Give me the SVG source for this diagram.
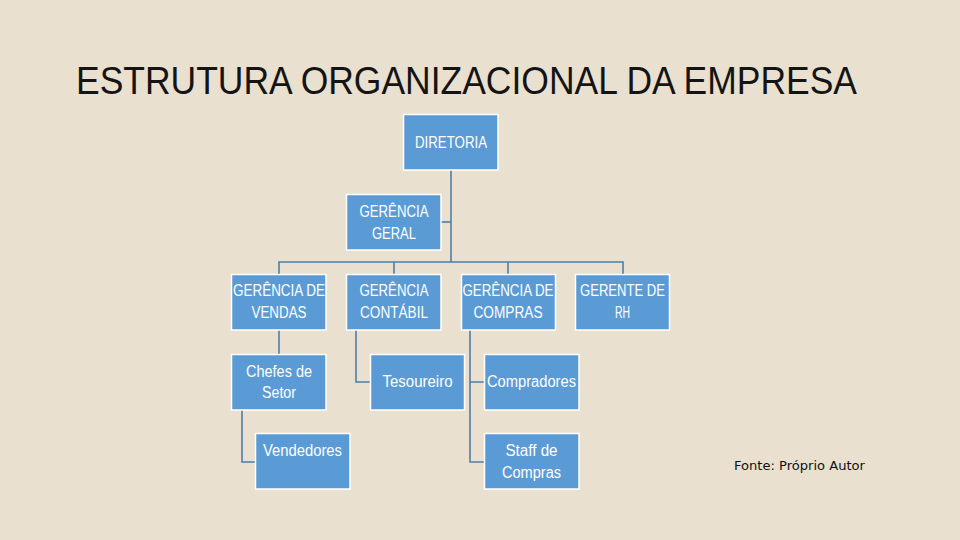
<svg xmlns="http://www.w3.org/2000/svg" width="960" height="540" viewBox="0 0 960 540">
<style>
.bg{fill:#e9e0cf}
.box{fill:#5b9bd5;stroke:#ffffff;stroke-width:1.5}
.lbl{font-family:"Liberation Sans",Arial,sans-serif;font-size:16px;fill:#ffffff;text-anchor:middle;dominant-baseline:central}
.con{fill:none;stroke:#4f7ea8;stroke-width:1.6}
.title{font-family:"Liberation Sans",Arial,sans-serif;font-size:38px;fill:#141414}
.note{font-family:"DejaVu Sans","Liberation Sans",sans-serif;font-size:12px;fill:#111111}
</style>
<rect class="bg" x="0" y="0" width="960" height="540"/>
<text class="title" x="76" y="94" textLength="781" lengthAdjust="spacingAndGlyphs">ESTRUTURA ORGANIZACIONAL DA EMPRESA</text>
<g id="connectors">
<path class="con" d="M451 170V262"/>
<path class="con" d="M441 222H451"/>
<path class="con" d="M279 274V262H623V274M394 262V274M508 262V274"/>
<path class="con" d="M279 330V354"/>
<path class="con" d="M356 330V382H371"/>
<path class="con" d="M470 330V462H484M470 382H484"/>
<path class="con" d="M242 410V462H256"/>
</g>
<g id="diretoria"><rect class="box" x="403.5" y="114.5" width="94.5" height="55.5"/><text class="lbl" x="451" y="142" textLength="72" lengthAdjust="spacingAndGlyphs">DIRETORIA</text></g>
<g id="gerencia-geral"><rect class="box" x="346.5" y="194.5" width="94.5" height="55.5"/><text class="lbl" x="394" y="211.5" textLength="69" lengthAdjust="spacingAndGlyphs">GERÊNCIA</text><text class="lbl" x="394" y="233" textLength="44" lengthAdjust="spacingAndGlyphs">GERAL</text></g>
<g id="gerencia-vendas"><rect class="box" x="231.5" y="274.5" width="94.5" height="55.5"/><text class="lbl" x="279" y="290" textLength="92" lengthAdjust="spacingAndGlyphs">GERÊNCIA DE</text><text class="lbl" x="279" y="312" textLength="55" lengthAdjust="spacingAndGlyphs">VENDAS</text></g>
<g id="gerencia-contabil"><rect class="box" x="346.5" y="274.5" width="94.5" height="55.5"/><text class="lbl" x="394" y="290" textLength="69" lengthAdjust="spacingAndGlyphs">GERÊNCIA</text><text class="lbl" x="394" y="312" textLength="68" lengthAdjust="spacingAndGlyphs">CONTÁBIL</text></g>
<g id="gerencia-compras"><rect class="box" x="461.5" y="274.5" width="94" height="55.5"/><text class="lbl" x="508" y="290" textLength="91" lengthAdjust="spacingAndGlyphs">GERÊNCIA DE</text><text class="lbl" x="508" y="312" textLength="69" lengthAdjust="spacingAndGlyphs">COMPRAS</text></g>
<g id="gerente-rh"><rect class="box" x="575.5" y="274.5" width="94" height="55.5"/><text class="lbl" x="622.5" y="290" textLength="85" lengthAdjust="spacingAndGlyphs">GERENTE DE</text><text class="lbl" x="622.5" y="312" textLength="15" lengthAdjust="spacingAndGlyphs">RH</text></g>
<g id="chefes-setor"><rect class="box" x="231.5" y="354.5" width="94.5" height="55.5"/><text class="lbl" x="279" y="371" textLength="66" lengthAdjust="spacingAndGlyphs">Chefes de</text><text class="lbl" x="279" y="392.5" textLength="34" lengthAdjust="spacingAndGlyphs">Setor</text></g>
<g id="tesoureiro"><rect class="box" x="370.5" y="354.5" width="94" height="55.5"/><text class="lbl" x="417.5" y="381.5" textLength="70" lengthAdjust="spacingAndGlyphs">Tesoureiro</text></g>
<g id="compradores"><rect class="box" x="484.5" y="354.5" width="94.5" height="55.5"/><text class="lbl" x="531.5" y="381.5" textLength="89" lengthAdjust="spacingAndGlyphs">Compradores</text></g>
<g id="vendedores"><rect class="box" x="255.5" y="433.5" width="94.5" height="55.5"/><text class="lbl" x="302.5" y="450" textLength="79" lengthAdjust="spacingAndGlyphs">Vendedores</text></g>
<g id="staff-compras"><rect class="box" x="484.5" y="433.5" width="94.5" height="55.5"/><text class="lbl" x="531.5" y="450" textLength="52" lengthAdjust="spacingAndGlyphs">Staff de</text><text class="lbl" x="531.5" y="472" textLength="59" lengthAdjust="spacingAndGlyphs">Compras</text></g>
<text class="note" x="734" y="469.5" textLength="131" lengthAdjust="spacingAndGlyphs">Fonte: Próprio Autor</text>
</svg>
